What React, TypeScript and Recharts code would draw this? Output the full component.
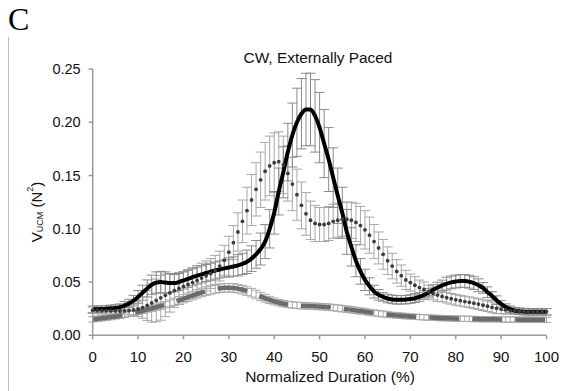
import React from "react";
import { ComposedChart, Line, XAxis, YAxis, ErrorBar } from "recharts";

// normalized duration, 0..100 %
const xValues = Array.from({ length: 101 }, (_, i) => i);

// solid black curve
const solid = [
  0.0245, 0.0245, 0.0247, 0.025, 0.0253, 0.0257, 0.0265, 0.0278, 0.0298, 0.0325,
  0.036, 0.04, 0.044, 0.0475, 0.0495, 0.05, 0.0495, 0.049, 0.049, 0.05,
  0.0515, 0.053, 0.0545, 0.056, 0.0572, 0.0585, 0.0597, 0.0608, 0.0618, 0.0628,
  0.0637, 0.0646, 0.0657, 0.067, 0.069, 0.072, 0.076, 0.081, 0.088, 0.1,
  0.115, 0.135, 0.153, 0.172, 0.188, 0.2, 0.208, 0.212, 0.212, 0.206,
  0.195, 0.18, 0.165, 0.148, 0.131, 0.115, 0.097, 0.083, 0.07, 0.06,
  0.052, 0.046, 0.041, 0.038, 0.036, 0.0345, 0.0337, 0.0333, 0.0333, 0.0335,
  0.034, 0.0348, 0.036, 0.0378, 0.04, 0.0425, 0.0448, 0.0468, 0.0485, 0.0497,
  0.0505, 0.051, 0.051, 0.0503, 0.049, 0.047, 0.0445, 0.0405, 0.037, 0.033,
  0.0295, 0.0265, 0.0245, 0.0232, 0.0225, 0.0222, 0.022, 0.022, 0.022, 0.022, 0.022,
];
const solidErr = [
  0.003, 0.003, 0.003, 0.003, 0.003, 0.003, 0.003, 0.004, 0.004, 0.005,
  0.006, 0.007, 0.008, 0.009, 0.01, 0.01, 0.01, 0.009, 0.008, 0.008,
  0.008, 0.008, 0.008, 0.008, 0.008, 0.008, 0.008, 0.008, 0.008, 0.008,
  0.009, 0.009, 0.01, 0.01, 0.011, 0.012, 0.013, 0.015, 0.016, 0.018,
  0.02, 0.022, 0.024, 0.027, 0.03, 0.032, 0.033, 0.034, 0.034, 0.034,
  0.033, 0.032, 0.03, 0.028, 0.026, 0.024, 0.021, 0.018, 0.015, 0.012,
  0.01, 0.008, 0.006, 0.005, 0.004, 0.004, 0.004, 0.004, 0.004, 0.004,
  0.004, 0.004, 0.004, 0.004, 0.004, 0.005, 0.005, 0.005, 0.006, 0.006,
  0.006, 0.006, 0.006, 0.006, 0.006, 0.006, 0.005, 0.005, 0.004, 0.004,
  0.003, 0.003, 0.003, 0.003, 0.003, 0.003, 0.003, 0.003, 0.003, 0.003, 0.003,
];

// dotted series
const dotted = [
  0.0235, 0.0233, 0.0231, 0.023, 0.0229, 0.0228, 0.0228, 0.0229, 0.0232, 0.0238,
  0.0247, 0.026, 0.028, 0.0303, 0.0327, 0.0352, 0.0375, 0.0398, 0.042, 0.044,
  0.0458, 0.0477, 0.0495, 0.0515, 0.0537, 0.0558, 0.058, 0.061, 0.065, 0.0705,
  0.078, 0.087, 0.097, 0.107, 0.117, 0.127, 0.137, 0.146, 0.154, 0.159,
  0.162, 0.163, 0.16, 0.152, 0.142, 0.132, 0.122, 0.114, 0.108, 0.105,
  0.104, 0.104, 0.105, 0.107, 0.108, 0.109, 0.109, 0.108, 0.106, 0.103,
  0.099, 0.094, 0.088, 0.082, 0.076, 0.07, 0.065, 0.06, 0.056, 0.052,
  0.0495, 0.047, 0.0448, 0.043, 0.041, 0.0393, 0.0378, 0.0365, 0.0353, 0.0343,
  0.0333, 0.0325, 0.0317, 0.031, 0.0302, 0.0293, 0.0283, 0.0273, 0.0263, 0.0253,
  0.0245, 0.0238, 0.0232, 0.0228, 0.0225, 0.0223, 0.0222, 0.0222, 0.0222, 0.0222, 0.0222,
];
const dottedErr = [
  0.003, 0.003, 0.003, 0.003, 0.003, 0.003, 0.003, 0.003, 0.004, 0.005,
  0.007, 0.01, 0.014, 0.018, 0.02, 0.021, 0.02, 0.018, 0.016, 0.015,
  0.014, 0.014, 0.014, 0.014, 0.014, 0.014, 0.014, 0.014, 0.014, 0.014,
  0.015, 0.016, 0.018, 0.02, 0.022, 0.024, 0.025, 0.026, 0.027, 0.028,
  0.028, 0.028, 0.027, 0.026, 0.025, 0.024, 0.022, 0.02, 0.018, 0.017,
  0.016, 0.016, 0.016, 0.016, 0.016, 0.016, 0.016, 0.017, 0.018, 0.018,
  0.018, 0.017, 0.016, 0.015, 0.014, 0.013, 0.012, 0.011, 0.01, 0.009,
  0.008, 0.008, 0.007, 0.007, 0.006, 0.006, 0.006, 0.005, 0.005, 0.005,
  0.005, 0.005, 0.005, 0.005, 0.005, 0.005, 0.005, 0.005, 0.005, 0.005,
  0.004, 0.004, 0.003, 0.003, 0.003, 0.003, 0.003, 0.003, 0.003, 0.003, 0.003,
];

// dashed grey series
const dashed = [
  0.015, 0.0155, 0.016, 0.0165, 0.0171, 0.0177, 0.0184, 0.0192, 0.02, 0.021,
  0.022, 0.023, 0.0242, 0.0253, 0.0264, 0.0275, 0.0287, 0.03, 0.0314, 0.0328,
  0.0343, 0.0358, 0.0373, 0.0388, 0.0402, 0.0415, 0.0426, 0.0435, 0.0442, 0.0446,
  0.0447, 0.0444, 0.0438, 0.0428, 0.0415, 0.04, 0.0383, 0.0365, 0.0348, 0.0332,
  0.0318, 0.0306, 0.0297, 0.029, 0.0285, 0.0281, 0.0278, 0.0276, 0.0274, 0.0272,
  0.027, 0.0267, 0.0264, 0.026, 0.0255, 0.025, 0.0245, 0.024, 0.0234, 0.0228,
  0.0222, 0.0216, 0.021, 0.0205, 0.02, 0.0195, 0.0191, 0.0187, 0.0183, 0.018,
  0.0177, 0.0174, 0.0171, 0.0169, 0.0167, 0.0165, 0.0163, 0.0161, 0.016, 0.0158,
  0.0157, 0.0156, 0.0155, 0.0154, 0.0153, 0.0152, 0.0151, 0.0151, 0.015, 0.015,
  0.0149, 0.0149, 0.0148, 0.0148, 0.0147, 0.0147, 0.0146, 0.0146, 0.0145, 0.0145, 0.0145,
];
const dashedErr = [
  0.0025, 0.0025, 0.0025, 0.0025, 0.0025, 0.0025, 0.0025, 0.0025, 0.0025, 0.0025,
  0.0025, 0.0025, 0.0025, 0.0028, 0.003, 0.003, 0.003, 0.0032, 0.0034, 0.0036,
  0.0038, 0.004, 0.004, 0.004, 0.004, 0.004, 0.004, 0.004, 0.004, 0.004,
  0.004, 0.004, 0.004, 0.004, 0.004, 0.004, 0.004, 0.0038, 0.0036, 0.0034,
  0.0032, 0.003, 0.003, 0.003, 0.003, 0.003, 0.003, 0.003, 0.003, 0.003,
  0.003, 0.003, 0.003, 0.003, 0.003, 0.003, 0.003, 0.003, 0.003, 0.003,
  0.0028, 0.0028, 0.0028, 0.0028, 0.0028, 0.0026, 0.0026, 0.0026, 0.0026, 0.0026,
  0.0025, 0.0025, 0.0025, 0.0025, 0.0025, 0.0025, 0.0025, 0.0025, 0.0025, 0.0025,
  0.0025, 0.0025, 0.0025, 0.0025, 0.0025, 0.0025, 0.0025, 0.0025, 0.0025, 0.0025,
  0.0025, 0.0025, 0.0025, 0.0025, 0.0025, 0.0025, 0.0025, 0.0025, 0.0025, 0.0025, 0.0025,
];

const xTicks = [0, 10, 20, 30, 40, 50, 60, 70, 80, 90, 100];
const yTicks = [0, 0.05, 0.1, 0.15, 0.2, 0.25];

const data = xValues.map((x, i) => ({
  x,
  solid: solid[i],
  solidErr: solidErr[i],
  dotted: dotted[i],
  dottedErr: dottedErr[i],
  dashed: dashed[i],
  dashedErr: dashedErr[i],
}));

const FONT = "'Liberation Sans', Arial, sans-serif";

const YLabel = () => (
  <text
    transform="translate(36,212) rotate(-90)"
    textAnchor="middle"
    dominantBaseline="central"
    fontFamily={FONT}
    fontSize={15}
    fill="#111"
  >
    <tspan>V</tspan>
    <tspan fontSize={9} dy={4}>UCM</tspan>
    <tspan dy={-4}>{"  (N"}</tspan>
    <tspan fontSize={9} dy={-6}>2</tspan>
    <tspan dy={6}>)</tspan>
  </text>
);

const XLabel = () => (
  <text x={330} y={382} textAnchor="middle" fontFamily={FONT} fontSize={15.5} fill="#111">
    Normalized Duration (%)
  </text>
);

export default function App() {
  return (
    <div style={{ position: "absolute", left: 0, top: 0, width: 564, height: 391, background: "#fff" }}>
      <style>{`.dash-line .recharts-line-curve { stroke-dasharray: 30 13; }`}</style>
      <ComposedChart
        width={564}
        height={391}
        data={data}
        margin={{ top: 69, right: 17.5, bottom: 25.7, left: 0 }}
      >
        <XAxis
          type="number"
          dataKey="x"
          domain={[0, 100]}
          ticks={xTicks}
          height={30}
          tickSize={4}
          tickMargin={12}
          stroke="#999"
          strokeWidth={1.5}
          tick={{ fill: "#111", fontSize: 15, fontFamily: FONT }}
          label={{ content: () => <XLabel /> }}
        />
        <YAxis
          type="number"
          domain={[0, 0.25]}
          ticks={yTicks}
          width={92.7}
          tickSize={4}
          tickMargin={8}
          stroke="#999"
          strokeWidth={1.5}
          tickFormatter={(v: number) => v.toFixed(2)}
          tick={{ fill: "#111", fontSize: 14.5, fontFamily: FONT }}
          label={{ content: () => <YLabel /> }}
        />
        {/* error bars first so the curves sit on top */}
        <Line dataKey="dashed" stroke="none" dot={false} activeDot={false} isAnimationActive={false}>
          <ErrorBar dataKey="dashedErr" width={4.6} stroke="#a8a8a8" strokeWidth={1} isAnimationActive={false} />
        </Line>
        <Line dataKey="dotted" stroke="none" dot={false} activeDot={false} isAnimationActive={false}>
          <ErrorBar dataKey="dottedErr" width={5} stroke="#a8a8a8" strokeWidth={1} isAnimationActive={false} />
        </Line>
        <Line dataKey="solid" stroke="none" dot={false} activeDot={false} isAnimationActive={false}>
          <ErrorBar dataKey="solidErr" width={5} stroke="#8a8a8a" strokeWidth={1} isAnimationActive={false} />
        </Line>
        <Line
          className="dash-line"
          type="monotone"
          dataKey="dashed"
          stroke="#6b6b6b"
          strokeWidth={4.5}
          dot={false}
          activeDot={false}
          isAnimationActive={false}
        />
        <Line
          dataKey="dotted"
          stroke="none"
          dot={{ r: 1.9, fill: "#3c3c3c", stroke: "none" }}
          activeDot={false}
          isAnimationActive={false}
        />
        <Line
          type="monotone"
          dataKey="solid"
          stroke="#000"
          strokeWidth={4}
          dot={false}
          activeDot={false}
          isAnimationActive={false}
        />
      </ComposedChart>
      <svg
        width={564}
        height={391}
        style={{ position: "absolute", left: 0, top: 0, pointerEvents: "none" }}
      >
        <text x={8} y={30} fontFamily="'Liberation Serif', 'Times New Roman', serif" fontSize={32} fill="#000">
          C
        </text>
        <line x1={8.5} y1={37} x2={8.5} y2={391} stroke="#bbb" strokeWidth={1} />
        <text x={318} y={62.5} textAnchor="middle" fontFamily={FONT} fontSize={15.4} fill="#111">
          CW, Externally Paced
        </text>
      </svg>
    </div>
  );
}
